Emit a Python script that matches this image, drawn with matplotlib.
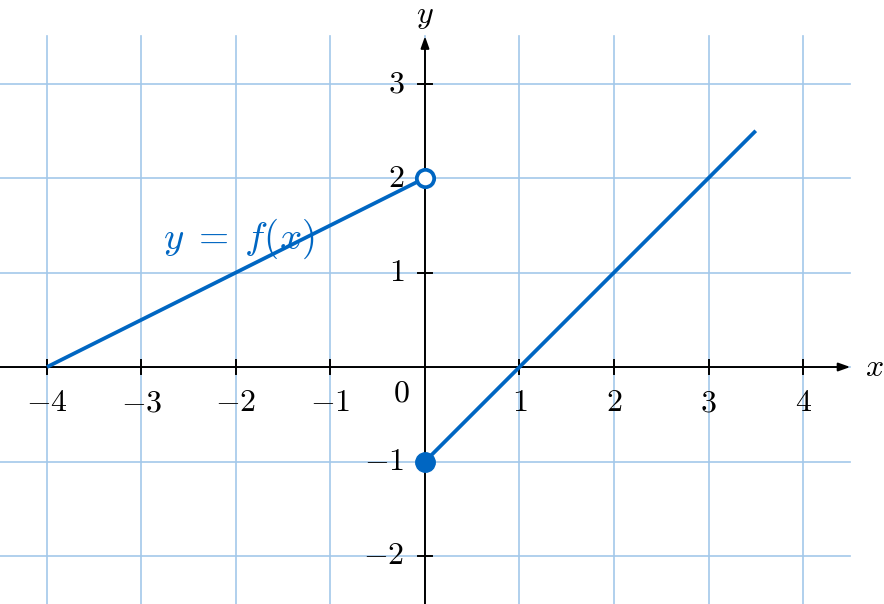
import matplotlib
matplotlib.use('Agg')
import matplotlib.pyplot as plt
import numpy as np

plt.rcParams['mathtext.fontset'] = 'cm'
plt.rcParams['font.family'] = 'serif'
plt.rcParams['font.serif'] = ['DejaVu Serif']

# data
x_ticks = [-4, -3, -2, -1, 1, 2, 3, 4]
y_ticks = [-2, -1, 1, 2, 3]
seg1_x = [-4, 0]
seg1_y = [0, 2]
seg2_x = [0, 3.5]
seg2_y = [-1, 2.5]
open_pt = (0, 2)
closed_pt = (0, -1)
curve_label = r'$y\;=\;f(x)$'

blue = '#0066c2'
grid_c = '#a3c8ea'

fig = plt.figure(figsize=(8.84, 6.04), dpi=100)
ax = fig.add_axes([0, 0, 1, 1])
ax.set_xlim(-4.497, 4.857)
ax.set_ylim(-2.508, 3.884)
ax.axis('off')

# grid
for gx in range(-4, 5):
    ax.plot([gx, gx], [-2.6, 3.5], color=grid_c, lw=1.2, zorder=1)
for gy in range(-2, 4):
    ax.plot([-4.6, 4.5], [gy, gy], color=grid_c, lw=1.2, zorder=1)

# axes with arrows
ax.annotate('', xy=(4.5, 0), xytext=(-4.6, 0),
            arrowprops=dict(arrowstyle='-|>,head_length=0.7,head_width=0.25', color='black', lw=1.4,
                            shrinkA=0, shrinkB=0), zorder=2)
ax.annotate('', xy=(0, 3.5), xytext=(0, -2.6),
            arrowprops=dict(arrowstyle='-|>,head_length=0.7,head_width=0.25', color='black', lw=1.4,
                            shrinkA=0, shrinkB=0), zorder=2)
ax.text(4.75, 0, r'$x$', fontsize=23, ha='center', va='center')
ax.text(0, 3.72, r'$y$', fontsize=23, ha='center', va='center')

# ticks
for t in x_ticks:
    ax.plot([t, t], [-0.07, 0.07], color='black', lw=1.4, zorder=2)
    lab = r'$%d$' % t if t > 0 else r'$-%d$' % abs(t)
    ax.text(t, -0.38, lab, fontsize=23, ha='center', va='center')
for t in y_ticks:
    ax.plot([-0.07, 0.07], [t, t], color='black', lw=1.4, zorder=2)
    lab = r'$%d$' % t if t > 0 else r'$-%d$' % abs(t)
    ax.text(-0.22, t, lab, fontsize=23, ha='right', va='center')
ax.text(-0.25, -0.28, r'$0$', fontsize=23, ha='center', va='center')

# function
ax.plot(seg1_x, seg1_y, color=blue, lw=2.7, zorder=3, solid_capstyle='butt')
ax.plot(seg2_x, seg2_y, color=blue, lw=2.7, zorder=3, solid_capstyle='butt')
ax.plot(*open_pt, 'o', ms=12.5, mfc='white', mec=blue, mew=2.7, zorder=4)
ax.plot(*closed_pt, 'o', ms=14, mfc=blue, mec=blue, zorder=4)
ax.text(-1.97, 1.36, curve_label, fontsize=28, color=blue, ha='center', va='center', zorder=5)

fig.savefig('out.png', dpi=100)
